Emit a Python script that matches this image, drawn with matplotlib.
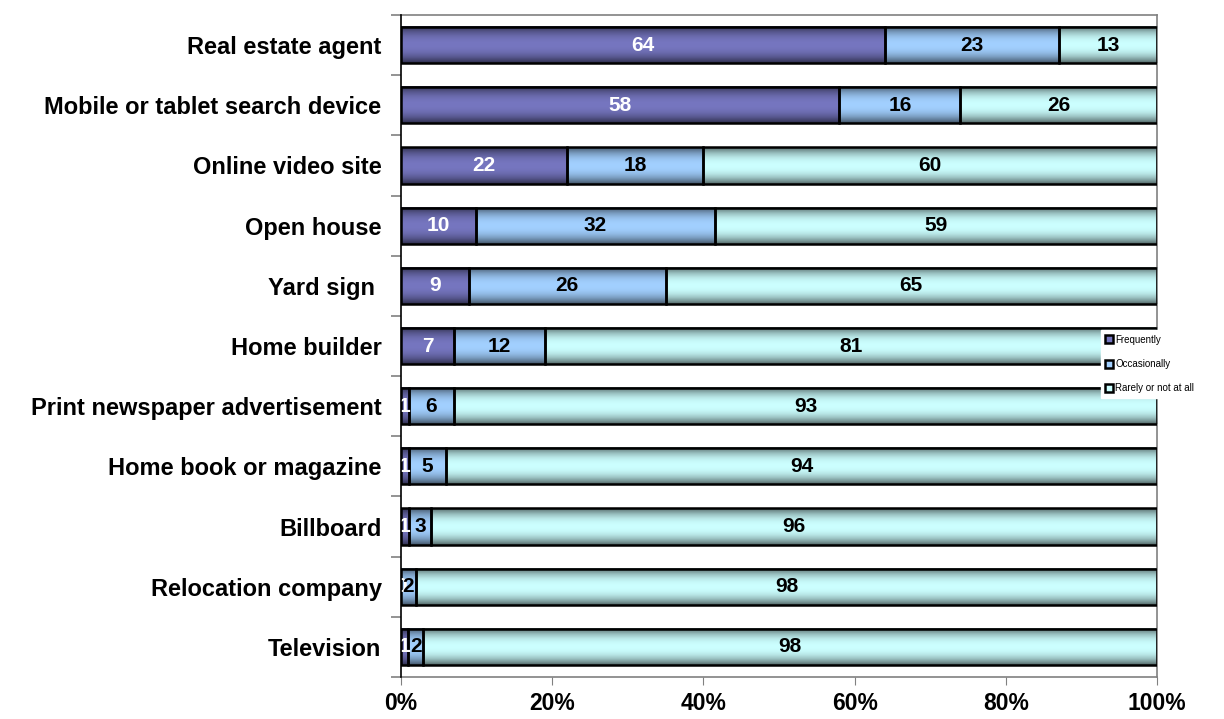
import matplotlib
matplotlib.use("Agg")
import matplotlib.pyplot as plt
import numpy as np
from matplotlib.colors import to_rgb
from matplotlib.lines import Line2D

plt.rcParams["font.family"] = ["Liberation Sans", "DejaVu Sans"]
plt.rcParams["font.weight"] = "bold"

# Sources of home-search information, top to bottom
categories = [
    "Real estate agent",
    "Mobile or tablet search device",
    "Online video site",
    "Open house",
    "Yard sign ",
    "Home builder",
    "Print newspaper advertisement",
    "Home book or magazine",
    "Billboard",
    "Relocation company",
    "Television",
]
frequently = [64, 58, 22, 10, 9, 7, 1, 1, 1, 0, 1]
occasionally = [23, 16, 18, 32, 26, 12, 6, 5, 3, 2, 2]
rarely = [13, 26, 60, 59, 65, 81, 93, 94, 96, 98, 98]

series_names = ["Frequently", "Occasionally", "Rarely or not at all"]
series_colors = ["#7676c0", "#a2d0ff", "#ccffff"]
text_colors = ["white", "black", "black"]


def gradient_strip(color, n=64):
    # darker towards the top and bottom edges of each bar
    base = np.array(to_rgb(color))
    t = np.linspace(-1, 1, n)
    shade = 1 - 0.6 * np.abs(t) ** 2.2
    return (base[None, :] * shade[:, None])[:, None, :]


fig = plt.figure(figsize=(12.24, 7.19), dpi=100)
ax = fig.add_axes([401 / 1224, 1 - 677 / 719, 756 / 1224, 662 / 719])

data = np.array([frequently, occasionally, rarely], dtype=float)
shares = data / data.sum(axis=0) * 100
ypos = np.arange(len(categories))
bar_h = 0.6

left = np.zeros(len(categories))
for k in range(3):
    strip = gradient_strip(series_colors[k])
    for i, y in enumerate(ypos):
        w = shares[k, i]
        if w > 0:
            ax.imshow(strip, extent=(left[i], left[i] + w, y + bar_h / 2, y - bar_h / 2),
                      aspect="auto", interpolation="bilinear", zorder=2)
            ax.add_patch(plt.Rectangle((left[i], y - bar_h / 2), w, bar_h,
                                       facecolor="none", edgecolor="black",
                                       linewidth=1.8, zorder=3))
        ax.text(left[i] + w / 2, y, f"{int(data[k, i])}", ha="center", va="center",
                color=text_colors[k], fontsize=15, fontweight="bold", zorder=4)
    left += shares[k]

ax.set_xlim(0, 100)
ax.set_ylim(len(categories) - 0.5, -0.5)
ax.set_xticks(np.arange(0, 101, 20))
ax.set_xticklabels([f"{v}%" for v in range(0, 101, 20)], fontsize=16.5, fontweight="bold")
ax.set_yticks(ypos)
ax.set_yticklabels(categories, fontsize=17, fontweight="bold")
ax.tick_params(axis="y", length=0, pad=14)
ax.tick_params(axis="x", length=6, color="#808080", pad=5)
ax.set_yticks(np.arange(-0.5, len(categories)), minor=True)
ax.tick_params(axis="y", which="minor", length=7, width=1.2, color="#808080")

for side in ("top", "right", "bottom"):
    ax.spines[side].set_color("#808080")
    ax.spines[side].set_linewidth(1.2)
ax.spines["left"].set_color("black")
ax.spines["left"].set_linewidth(1.2)
ax.spines["left"].set_zorder(5)

handles = [Line2D([], [], marker="s", linestyle="none", markersize=5.5,
                  markerfacecolor=c, markeredgecolor="black", markeredgewidth=1.8)
           for c in series_colors]
fig.legend(handles, series_names, loc="upper left",
           bbox_to_anchor=(1101 / 1224, 1 - 330 / 719),
           prop={"size": 7, "weight": "normal"}, frameon=True, fancybox=False,
           edgecolor="white", facecolor="white", framealpha=1,
           handlelength=0.6, handletextpad=0.35, labelspacing=1.45,
           borderpad=0.5, borderaxespad=0)

fig.savefig("out.png", dpi=100)
